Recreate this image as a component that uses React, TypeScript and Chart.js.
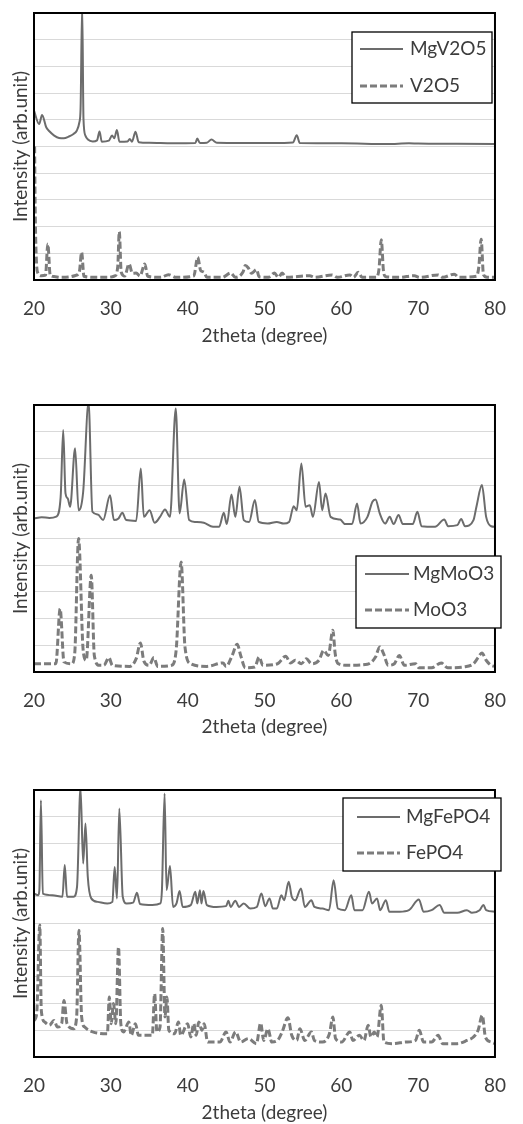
import React, { useEffect, useRef } from 'react';
import { Chart, registerables } from 'chart.js';
Chart.register(...registerables);

const xTicks = [20, 30, 40, 50, 60, 70, 80];
const xTitle = '2theta (degree)';
const yTitle = 'Intensity (arb.unit)';

// Panel 1
const mgv2o5X = [20, 20.67, 21.05, 21.59, 22.0, 22.63, 23.26, 23.89, 24.5, 25.14, 25.56, 25.9, 26.06, 26.27, 26.44, 26.69, 27.02, 27.65, 28.2, 28.53, 28.82, 29.74, 30.16, 30.45, 30.79, 31.12, 32.17, 32.46, 32.75, 33.21, 33.63, 35, 38, 41.0, 41.25, 41.6, 42.5, 43.1, 43.8, 47, 51, 53.7, 54.2, 54.6, 60, 66, 68.8, 70, 75, 80];
const mgv2o5Y = [6.34, 5.84, 6.18, 5.72, 5.57, 5.41, 5.32, 5.31, 5.37, 5.47, 5.59, 5.9, 6.4, 10.3, 6.03, 5.41, 5.26, 5.19, 5.23, 5.56, 5.18, 5.22, 5.41, 5.31, 5.62, 5.18, 5.19, 5.28, 5.18, 5.55, 5.16, 5.14, 5.12, 5.13, 5.3, 5.13, 5.14, 5.26, 5.14, 5.13, 5.13, 5.15, 5.42, 5.13, 5.12, 5.09, 5.12, 5.11, 5.1, 5.09];
const v2o5X = [20.08, 20.14, 20.25, 20.46, 20.96, 21.5, 21.8, 22.1, 22.6, 23.5, 24.5, 25.4, 25.9, 26.2, 26.5, 28, 29.5, 30.5, 30.9, 31.1, 31.35, 31.8, 32.38, 32.8, 33.3, 33.8, 34.42, 34.8, 36.5, 37.5, 38.5, 40.8, 41.3, 41.7, 42.1, 42.5, 44.5, 45.6, 46.2, 47.2, 47.5, 47.9, 48.3, 48.97, 49.3, 50.5, 51.3, 51.8, 52.3, 52.8, 55.9, 56.5, 58.8, 59.5, 61.1, 61.6, 62.2, 62.7, 64.5, 64.9, 65.2, 65.5, 65.8, 67.5, 69.5, 70.2, 72.6, 73.2, 74.7, 75.3, 77.6, 77.9, 78.2, 78.5, 79, 80];
const v2o5Y = [5.0, 3.0, 1.2, 0.29, 0.16, 0.18, 1.35, 0.2, 0.13, 0.1, 0.11, 0.17, 0.3, 1.04, 0.14, 0.1, 0.1, 0.15, 0.5, 1.81, 0.3, 0.15, 0.6, 0.25, 0.26, 0.15, 0.6, 0.14, 0.1, 0.2, 0.1, 0.15, 0.85, 0.35, 0.3, 0.1, 0.1, 0.26, 0.1, 0.3, 0.54, 0.45, 0.25, 0.39, 0.12, 0.1, 0.26, 0.1, 0.26, 0.1, 0.16, 0.1, 0.19, 0.1, 0.19, 0.1, 0.29, 0.1, 0.1, 0.4, 1.51, 0.3, 0.12, 0.1, 0.16, 0.1, 0.19, 0.1, 0.22, 0.1, 0.14, 0.5, 1.53, 0.2, 0.1, 0.1];

// Panel 2
const mgmoo3X = [20, 21, 22, 22.9, 23.47, 23.8, 24.1, 24.39, 24.7, 25.35, 25.8, 26.4, 27.1, 27.6, 28.3, 29.0, 29.9, 30.4, 31.0, 31.5, 32.0, 33.3, 33.9, 34.3, 35.05, 35.7, 36.4, 37.05, 37.7, 38.45, 38.95, 39.55, 40.2, 41.0, 42.1, 43.3, 44.1, 44.7, 45.1, 45.7, 46.2, 46.75, 47.3, 48.0, 48.75, 49.25, 50.4, 51.6, 52.5, 53.2, 53.8, 54.2, 54.8, 55.35, 55.9, 56.3, 57.1, 57.5, 57.95, 58.6, 59.85, 60.5, 61.4, 62.05, 62.5, 63.4, 64.05, 64.45, 65.0, 65.7, 66.3, 66.8, 67.45, 68.0, 69.3, 69.9, 70.45, 72.2, 73.4, 73.9, 75.1, 75.6, 76.1, 77.2, 77.6, 78.3, 78.85, 79.5, 80];
const mgmoo3Y = [5.75, 5.8, 5.77, 5.82, 6.56, 9.06, 6.69, 6.5, 6.19, 8.38, 6.06, 6.75, 10.1, 6.0, 5.9, 5.69, 6.62, 5.69, 5.75, 5.96, 5.69, 5.66, 7.62, 5.81, 6.06, 5.59, 5.81, 6.09, 5.81, 9.87, 5.94, 7.21, 5.69, 5.62, 5.59, 5.44, 5.44, 5.96, 5.54, 6.65, 5.81, 6.94, 5.69, 5.62, 6.44, 5.62, 5.56, 5.62, 5.56, 5.62, 6.21, 6.06, 7.81, 6.19, 6.25, 5.81, 7.12, 6.06, 6.69, 5.81, 5.71, 5.54, 5.54, 6.31, 5.56, 5.81, 6.38, 6.46, 5.94, 5.56, 5.81, 5.54, 5.88, 5.54, 5.54, 6.0, 5.46, 5.44, 5.71, 5.46, 5.5, 5.73, 5.46, 5.69, 6.21, 7.0, 5.81, 5.46, 5.44];
const moo3X = [20, 21.5, 22.85, 23.4, 23.9, 24.9, 25.3, 25.8, 26.4, 26.8, 27.45, 27.85, 28.5, 29.1, 29.75, 30.2, 32.45, 33.3, 33.85, 34.3, 35.0, 35.6, 36.1, 37.9, 38.5, 39.15, 39.65, 40.4, 42.5, 44.6, 45.0, 45.8, 46.45, 46.9, 47.5, 48.75, 49.3, 49.8, 51.7, 52.75, 53.4, 54.0, 54.8, 55.45, 56.1, 57.1, 57.7, 58.3, 58.9, 59.2, 59.6, 60.9, 63.4, 64.45, 65.0, 65.5, 66.1, 66.9, 67.55, 68.2, 69.65, 70.1, 71.75, 73.0, 73.85, 75.95, 77.2, 77.8, 78.3, 78.85, 79.5, 80];
const moo3Y = [0.31, 0.31, 0.31, 2.37, 0.38, 0.31, 0.69, 5.0, 0.81, 0.44, 3.62, 0.62, 0.25, 0.25, 0.54, 0.25, 0.21, 0.5, 1.09, 0.41, 0.25, 0.54, 0.21, 0.25, 0.81, 4.12, 0.94, 0.31, 0.21, 0.34, 0.21, 0.62, 1.04, 0.62, 0.16, 0.19, 0.56, 0.25, 0.31, 0.59, 0.34, 0.44, 0.31, 0.5, 0.31, 0.44, 0.81, 0.62, 1.56, 0.69, 0.31, 0.25, 0.29, 0.56, 0.94, 0.69, 0.25, 0.31, 0.62, 0.25, 0.31, 0.16, 0.16, 0.34, 0.16, 0.19, 0.31, 0.54, 0.71, 0.44, 0.25, 0.21];

// Panel 3
const mgfepo4X = [20, 20.55, 20.7, 20.9, 21.15, 22.4, 23.7, 24.0, 24.3, 25.15, 25.6, 26.05, 26.4, 26.7, 27.0, 27.45, 28.3, 29.55, 30.2, 30.5, 30.8, 31.1, 31.55, 32.05, 32.9, 33.4, 33.8, 35.4, 36.45, 36.65, 37.0, 37.25, 37.7, 38.1, 38.55, 38.95, 39.35, 40.4, 41.0, 41.25, 41.6, 41.8, 42.05, 42.5, 43.75, 45.0, 45.3, 45.6, 46.2, 46.7, 47.3, 48.15, 49.0, 49.6, 50.1, 50.65, 51.1, 51.6, 52.2, 52.55, 53.15, 53.55, 54.0, 54.75, 55.25, 56.1, 56.5, 57.55, 58.4, 59.0, 59.55, 60.45, 61.3, 61.7, 62.75, 63.6, 64.0, 64.65, 65.05, 65.8, 66.25, 67.6, 68.8, 70.1, 70.7, 71.75, 72.8, 73.4, 75.1, 76.35, 77.0, 78.0, 78.5, 78.85, 80];
const mgfepo4Y = [6.12, 6.06, 6.25, 9.62, 6.12, 6.06, 6.0, 7.19, 6.0, 6.0, 6.37, 10.1, 7.25, 8.75, 6.75, 5.94, 5.81, 5.75, 5.81, 7.12, 5.94, 9.31, 6.0, 5.75, 5.78, 6.15, 5.73, 5.69, 5.75, 6.25, 9.87, 6.25, 7.15, 5.62, 5.75, 6.22, 5.62, 5.69, 6.19, 5.75, 6.25, 5.75, 6.22, 5.69, 5.62, 5.65, 5.85, 5.62, 5.85, 5.62, 5.75, 5.56, 5.62, 6.12, 5.65, 5.94, 5.56, 5.56, 6.06, 5.87, 6.56, 6.0, 5.87, 6.31, 5.62, 5.87, 5.62, 5.56, 5.5, 6.62, 5.56, 5.5, 6.06, 5.5, 5.5, 6.19, 5.75, 5.94, 5.5, 5.87, 5.44, 5.44, 5.5, 5.9, 5.44, 5.5, 5.69, 5.4, 5.4, 5.5, 5.4, 5.5, 5.69, 5.5, 5.44];
const fepo4X = [20, 20.35, 20.75, 20.95, 21.4, 22.0, 22.6, 23.05, 23.6, 23.9, 24.3, 25.15, 25.55, 25.85, 26.2, 26.6, 27.65, 29.55, 29.8, 30.05, 30.35, 30.65, 31.0, 31.3, 31.65, 32.35, 32.65, 33.2, 33.6, 35.4, 35.7, 36.0, 36.4, 36.75, 37.05, 37.3, 37.55, 38.3, 38.8, 39.1, 40.0, 40.4, 40.8, 41.1, 41.45, 41.85, 42.15, 42.6, 44.2, 45.0, 45.5, 46.25, 46.9, 47.9, 48.95, 49.5, 49.9, 50.45, 50.95, 51.7, 52.3, 53.05, 53.55, 54.2, 54.6, 55.25, 56.1, 56.5, 57.55, 58.45, 58.9, 59.25, 60.05, 61.1, 61.5, 62.35, 62.95, 63.5, 63.85, 64.3, 64.65, 65.2, 65.55, 66.75, 68.4, 69.65, 70.15, 70.7, 71.75, 72.6, 73.2, 75.1, 76.35, 77.2, 77.8, 78.35, 78.75, 79.5, 80];
const fepo4Y = [1.37, 1.62, 4.94, 1.75, 1.31, 1.19, 1.37, 1.12, 1.25, 2.12, 1.25, 1.06, 1.5, 4.75, 1.5, 1.12, 0.94, 0.87, 2.25, 1.25, 2.0, 1.25, 4.12, 1.25, 0.94, 1.31, 0.81, 1.25, 0.81, 0.81, 2.37, 0.94, 1.12, 4.81, 1.5, 2.25, 1.0, 0.87, 1.31, 0.81, 1.25, 0.75, 1.25, 0.81, 1.31, 1.0, 1.25, 0.56, 0.56, 0.94, 0.56, 0.94, 0.56, 0.69, 0.5, 1.27, 0.62, 1.06, 0.56, 0.62, 0.94, 1.47, 0.81, 0.62, 1.06, 0.62, 0.94, 0.62, 0.56, 0.87, 1.5, 0.69, 0.56, 0.94, 0.62, 0.81, 0.62, 1.19, 0.75, 0.94, 0.75, 1.94, 0.56, 0.5, 0.56, 0.62, 1.0, 0.56, 0.56, 0.81, 0.5, 0.5, 0.62, 0.75, 1.0, 1.56, 0.75, 0.56, 0.5];

const FONT_FAMILY = 'Lato, "Open Sans", sans-serif';
const FONT_SIZE = 19;
const TEXT_COLOR = '#3c3c3c';
const SOLID_COLOR = '#6c6c6c';
const DASH_COLOR = '#7c7c7c';

const zip = (xs: number[], ys: number[]) => xs.map((x, i) => ({ x, y: ys[i] }));

const framePlugin = {
  id: 'frame',
  afterDraw(chart: any) {
    const { ctx, chartArea: a } = chart;
    ctx.save();
    ctx.strokeStyle = '#000';
    ctx.lineWidth = 2;
    ctx.strokeRect(a.left, a.top, a.right - a.left, a.bottom - a.top);
    ctx.restore();
  },
};

const boxLegendPlugin = {
  id: 'boxLegend',
  afterDraw(chart: any, _args: any, opts: any) {
    const { ctx } = chart;
    ctx.save();
    ctx.fillStyle = '#fff';
    ctx.fillRect(opts.left, opts.top, opts.width, opts.height);
    ctx.strokeStyle = '#000';
    ctx.lineWidth = 1.3;
    ctx.strokeRect(opts.left, opts.top, opts.width, opts.height);
    chart.data.datasets.forEach((ds: any, i: number) => {
      const y = opts.rows[i];
      ctx.beginPath();
      ctx.setLineDash(ds.borderDash || []);
      ctx.lineWidth = ds.borderWidth;
      ctx.strokeStyle = ds.borderColor;
      ctx.moveTo(opts.lineX0, y);
      ctx.lineTo(opts.lineX1, y);
      ctx.stroke();
      ctx.setLineDash([]);
      ctx.fillStyle = TEXT_COLOR;
      ctx.font = `${FONT_SIZE}px ${FONT_FAMILY}`;
      ctx.textBaseline = 'middle';
      ctx.textAlign = 'left';
      ctx.fillText(ds.label, opts.textX, y);
    });
    ctx.restore();
  },
};

type Spec = {
  top: number;
  height: number;
  padTop: number;
  axisH: number;
  titlePadBottom: number;
  solidLabel: string;
  dashLabel: string;
  solid: { x: number; y: number }[];
  dash: { x: number; y: number }[];
  legend: any;
};

const specs: Spec[] = [
  {
    top: 0, height: 350, padTop: 13, axisH: 70, titlePadBottom: 3,
    solidLabel: 'MgV2O5', dashLabel: 'V2O5',
    solid: zip(mgv2o5X, mgv2o5Y), dash: zip(v2o5X, v2o5Y),
    legend: { left: 352, top: 32, width: 140, height: 71, rows: [49, 86], lineX0: 360, lineX1: 403, textX: 410 },
  },
  {
    top: 350, height: 391, padTop: 55, axisH: 69, titlePadBottom: 3,
    solidLabel: 'MgMoO3', dashLabel: 'MoO3',
    solid: zip(mgmoo3X, mgmoo3Y), dash: zip(moo3X, moo3Y),
    legend: { left: 356, top: 206, width: 145, height: 72, rows: [224, 260], lineX0: 365, lineX1: 409, textX: 413 },
  },
  {
    top: 741, height: 383, padTop: 49, axisH: 67, titlePadBottom: 0,
    solidLabel: 'MgFePO4', dashLabel: 'FePO4',
    solid: zip(mgfepo4X, mgfepo4Y), dash: zip(fepo4X, fepo4Y),
    legend: { left: 343, top: 57, width: 158, height: 73, rows: [76, 112], lineX0: 357, lineX1: 400, textX: 406 },
  },
];

function Panel({ spec }: { spec: Spec }) {
  const ref = useRef<HTMLCanvasElement>(null);
  useEffect(() => {
    if (!ref.current) return;
    const font = { family: FONT_FAMILY, size: FONT_SIZE };
    const chart = new Chart(ref.current, {
      type: 'line',
      data: {
        datasets: [
          {
            label: spec.solidLabel,
            data: spec.solid,
            borderColor: SOLID_COLOR,
            borderWidth: 2,
            pointRadius: 0,
            cubicInterpolationMode: 'monotone',
            fill: false,
          },
          {
            label: spec.dashLabel,
            data: spec.dash,
            borderColor: DASH_COLOR,
            borderWidth: 3,
            borderDash: [7, 3],
            pointRadius: 0,
            cubicInterpolationMode: 'monotone',
            fill: false,
          },
        ],
      },
      options: {
        responsive: false,
        animation: false,
        devicePixelRatio: 1,
        layout: { padding: { top: spec.padTop, right: 11, left: 0, bottom: 0 } },
        plugins: {
          legend: { display: false },
          tooltip: { enabled: false },
          boxLegend: spec.legend,
        } as any,
        scales: {
          x: {
            type: 'linear',
            min: 20,
            max: 80,
            afterBuildTicks: (s: any) => {
              s.ticks = xTicks.map((v) => ({ value: v }));
            },
            afterFit: (s: any) => {
              s.height = spec.axisH;
            },
            ticks: { font, color: TEXT_COLOR, padding: 17, autoSkip: false, maxRotation: 0 },
            grid: { display: false, drawTicks: false },
            border: { display: false },
            title: {
              display: true,
              text: xTitle,
              font,
              color: TEXT_COLOR,
              padding: { top: 0, bottom: spec.titlePadBottom },
            },
          },
          y: {
            min: 0,
            max: 10,
            ticks: { display: false, stepSize: 1 },
            grid: { color: '#d9d9d9', drawTicks: false, lineWidth: 1 },
            border: { display: false },
            afterFit: (s: any) => {
              s.width = 34;
            },
            title: {
              display: true,
              text: yTitle,
              font,
              color: TEXT_COLOR,
              padding: { top: 9, bottom: 0 },
            },
          },
        },
      } as any,
      plugins: [framePlugin, boxLegendPlugin],
    });
    return () => chart.destroy();
  }, [spec]);
  return (
    <canvas
      ref={ref}
      width={523}
      height={spec.height}
      style={{ position: 'absolute', left: 0, top: spec.top, width: 523, height: spec.height }}
    />
  );
}

export default function App() {
  return (
    <div
      style={{
        position: 'absolute',
        left: 0,
        top: 0,
        width: 523,
        height: 1124,
        overflow: 'hidden',
        background: '#fff',
      }}
    >
      {specs.map((s, i) => (
        <Panel key={i} spec={s} />
      ))}
    </div>
  );
}
